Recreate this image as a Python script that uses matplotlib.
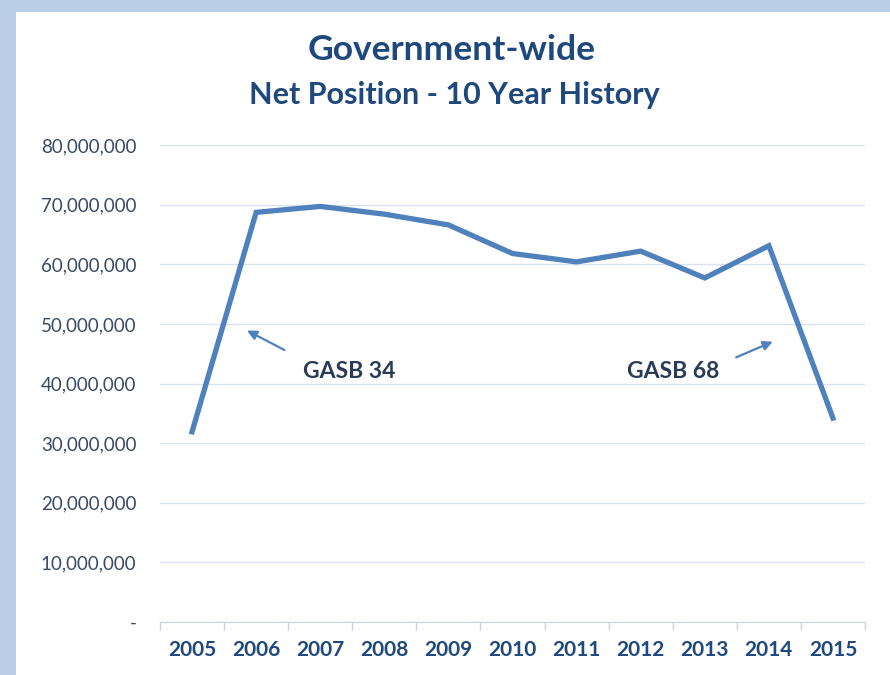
import numpy as np
import matplotlib.pyplot as plt
from matplotlib.patches import Rectangle
from matplotlib.ticker import FuncFormatter

years = ["2005", "2006", "2007", "2008", "2009", "2010",
         "2011", "2012", "2013", "2014", "2015"]
net_position = [31.9e6, 68.7e6, 69.7e6, 68.4e6, 66.6e6, 61.8e6,
                60.4e6, 62.2e6, 57.7e6, 63.1e6, 34.2e6]

LINE = "#4f81bd"
NAVY = "#1f497d"
GRID = "#d9e2ee"

plt.rcParams["font.family"] = ["Lato", "DejaVu Sans"]

fig = plt.figure(figsize=(8.9, 6.75), dpi=100)
fig.patch.set_facecolor("#b9cde5")
fig.patches.append(Rectangle((16 / 890, 0), 1, 1 - 12 / 675, transform=fig.transFigure,
                             facecolor="white", edgecolor="none", zorder=-10))

ax = fig.add_axes([160 / 890, 1 - 622 / 675, 705 / 890, 477 / 675])
ax.set_facecolor("none")

x = np.arange(len(years))
ax.plot(x, net_position, color=LINE, lw=3.8, solid_joinstyle="miter", zorder=3)

ax.set_xlim(-0.5, len(years) - 0.5)
ax.set_ylim(0, 80e6)
ax.set_yticks(np.arange(0, 80e6 + 1, 10e6))
ax.yaxis.set_major_formatter(FuncFormatter(lambda v, p: "-" if v == 0 else f"{v:,.0f}"))
ax.set_xticks(x)
ax.set_xticklabels(years, fontsize=15, fontweight="bold", color=NAVY)
ax.set_xticks(np.arange(-0.5, len(years)), minor=True)
ax.tick_params(axis="x", which="major", length=0, pad=13)
ax.tick_params(axis="x", which="minor", length=6, color="#c8d3e0", width=1)
ax.tick_params(axis="y", length=0, pad=17, labelsize=13.5, labelcolor="#3a4a64")

ax.grid(axis="y", color=GRID, lw=1)
ax.set_axisbelow(True)
for s in ["top", "right", "left"]:
    ax.spines[s].set_visible(False)
ax.spines["bottom"].set_color("#c8d3e0")

fig.text(452 / 890, 1 - 50 / 675, "Government-wide", ha="center", va="center",
         fontsize=25.5, fontweight="bold", color=NAVY)
fig.text(454 / 890, 1 - 95 / 675, "Net Position - 10 Year History", ha="center", va="center",
         fontsize=22, fontweight="bold", color=NAVY)

ax.annotate("", xy=(0.82, 49.1e6), xytext=(1.48, 45.4e6),
            arrowprops=dict(arrowstyle="-|>", color=LINE, lw=1.6, mutation_scale=14))
ax.text(2.45, 42e6, "GASB 34", ha="center", va="center", fontsize=16.5,
        fontweight="bold", color="#2b3a55")
ax.annotate("", xy=(9.1, 47.2e6), xytext=(8.45, 44.2e6),
            arrowprops=dict(arrowstyle="-|>", color=LINE, lw=1.6, mutation_scale=14))
ax.text(7.5, 42e6, "GASB 68", ha="center", va="center", fontsize=16.5,
        fontweight="bold", color="#2b3a55")

fig.savefig("out.png", dpi=100, facecolor=fig.get_facecolor())
